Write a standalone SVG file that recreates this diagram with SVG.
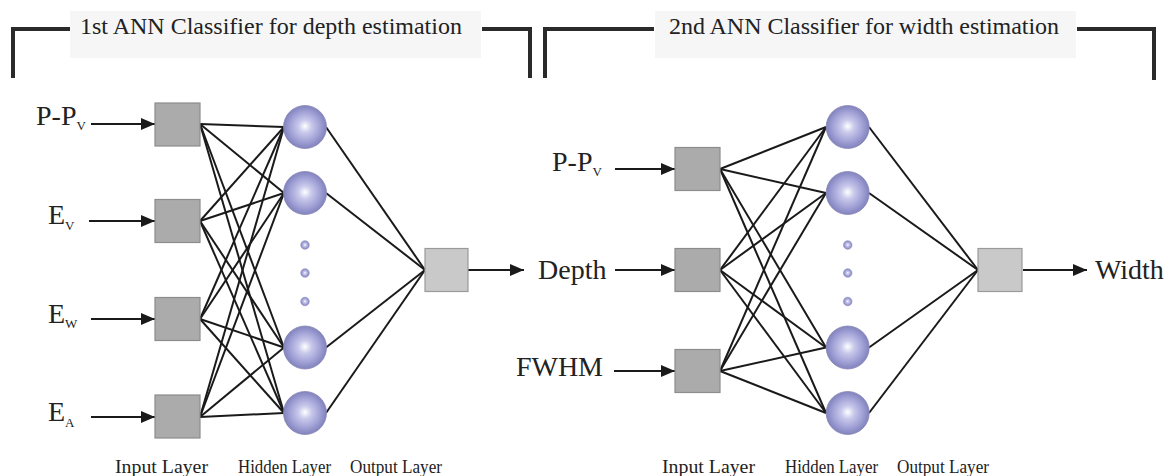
<svg xmlns="http://www.w3.org/2000/svg" width="1170" height="476" viewBox="0 0 1170 476">
<style>
  .bracket{fill:none;stroke:#2a2a2a;stroke-width:4;stroke-linejoin:miter;stroke-linecap:butt}
  .hdrbg{fill:#f6f6f6}
  .hdr{font-family:"Liberation Serif","Times New Roman",serif;font-size:24px;fill:#222}
  .lbl{font-family:"Liberation Serif","Times New Roman",serif;font-size:28px;fill:#222}
  .sub{font-family:"Liberation Serif","Times New Roman",serif;font-size:13px;fill:#222}
  .layer{font-family:"Liberation Serif","Times New Roman",serif;font-size:19px;fill:#222}
  .inbox{fill:#ababab;stroke:#8c8c8c;stroke-width:1.2}
  .outbox{fill:#c9c9c9;stroke:#9a9a9a;stroke-width:1.2}
  .node{fill:url(#sphere);stroke:#8585b5;stroke-width:0.8}
  .dot{fill:url(#sphere);stroke:#9090c0;stroke-width:0.6}
  .conn line{stroke:#1a1a1a;stroke-width:2}
  .arr{stroke:#1a1a1a;stroke-width:2.5;marker-end:url(#ah)}
</style>
<defs>
  <radialGradient id="sphere" cx="0.5" cy="0.5" r="0.5" fx="0.5" fy="0.48">
    <stop offset="0" stop-color="#ffffff"/>
    <stop offset="0.3" stop-color="#c9c9ec"/>
    <stop offset="0.75" stop-color="#9c9cd3"/>
    <stop offset="1" stop-color="#8282bd"/>
  </radialGradient>
  <marker id="ah" markerUnits="userSpaceOnUse" markerWidth="16" markerHeight="14" refX="14" refY="6" orient="auto">
    <path d="M0,0 L14,6 L0,12 Z" fill="#1a1a1a"/>
  </marker>
</defs>

<g id="header1">
  <polyline class="bracket" points="13,78 13,29 70,29"/>
  <polyline class="bracket" points="482,29 530,29 530,78"/>
  <rect class="hdrbg" x="70" y="11" width="411" height="47"/>
  <text class="hdr" x="80" y="34">1st ANN Classifier for depth estimation</text>
</g>
<g id="header2">
  <polyline class="bracket" points="545,78 545,29 654,29"/>
  <polyline class="bracket" points="1077,29 1154,29 1154,80"/>
  <rect class="hdrbg" x="655" y="11" width="421" height="47"/>
  <text class="hdr" x="669" y="34" textLength="390">2nd ANN Classifier for width estimation</text>
</g>

<g id="connectors" class="conn">
  <!-- net 1 input -> hidden -->
  <line x1="200" y1="124" x2="284" y2="127"/><line x1="200" y1="124" x2="284" y2="193"/><line x1="200" y1="124" x2="284" y2="347.5"/><line x1="200" y1="124" x2="284" y2="413"/>
  <line x1="200" y1="221" x2="284" y2="127"/><line x1="200" y1="221" x2="284" y2="193"/><line x1="200" y1="221" x2="284" y2="347.5"/><line x1="200" y1="221" x2="284" y2="413"/>
  <line x1="200" y1="319" x2="284" y2="127"/><line x1="200" y1="319" x2="284" y2="193"/><line x1="200" y1="319" x2="284" y2="347.5"/><line x1="200" y1="319" x2="284" y2="413"/>
  <line x1="200" y1="417" x2="284" y2="127"/><line x1="200" y1="417" x2="284" y2="193"/><line x1="200" y1="417" x2="284" y2="347.5"/><line x1="200" y1="417" x2="284" y2="413"/>
  <!-- net 1 hidden -> output -->
  <line x1="326" y1="127" x2="425" y2="270"/><line x1="326" y1="193" x2="425" y2="270"/><line x1="326" y1="347.5" x2="425" y2="270"/><line x1="326" y1="413" x2="425" y2="270"/>
  <!-- net 2 input -> hidden -->
  <line x1="720" y1="169" x2="826" y2="127"/><line x1="720" y1="169" x2="826" y2="193"/><line x1="720" y1="169" x2="826" y2="347.5"/><line x1="720" y1="169" x2="826" y2="413"/>
  <line x1="720" y1="270" x2="826" y2="127"/><line x1="720" y1="270" x2="826" y2="193"/><line x1="720" y1="270" x2="826" y2="347.5"/><line x1="720" y1="270" x2="826" y2="413"/>
  <line x1="720" y1="371" x2="826" y2="127"/><line x1="720" y1="371" x2="826" y2="193"/><line x1="720" y1="371" x2="826" y2="347.5"/><line x1="720" y1="371" x2="826" y2="413"/>
  <!-- net 2 hidden -> output -->
  <line x1="869" y1="127" x2="978" y2="270"/><line x1="869" y1="193" x2="978" y2="270"/><line x1="869" y1="347.5" x2="978" y2="270"/><line x1="869" y1="413" x2="978" y2="270"/>
  <!-- input / output arrows -->
  <line class="arr" x1="91" y1="124" x2="155" y2="124"/>
  <line class="arr" x1="89" y1="221" x2="155" y2="221"/>
  <line class="arr" x1="91" y1="319" x2="155" y2="319"/>
  <line class="arr" x1="91" y1="417" x2="155" y2="417"/>
  <line class="arr" x1="468" y1="270" x2="524" y2="270"/>
  <line class="arr" x1="615" y1="169" x2="675" y2="169"/>
  <line class="arr" x1="615" y1="270" x2="675" y2="270"/>
  <line class="arr" x1="614" y1="371" x2="675" y2="371"/>
  <line class="arr" x1="1023" y1="270" x2="1087" y2="270"/>
</g>

<g id="net1-labels">
  <text class="lbl" x="36" y="124.5">P-P<tspan class="sub" dy="5">V</tspan></text>
  <text class="lbl" x="48" y="223.5">E<tspan class="sub" dy="6">V</tspan></text>
  <text class="lbl" x="48" y="322.5">E<tspan class="sub" dy="5.5">W</tspan></text>
  <text class="lbl" x="48" y="421">E<tspan class="sub" dy="6">A</tspan></text>
  <text class="lbl" x="538" y="278.5">Depth</text>
</g>
<g id="net1-input">
  <rect class="inbox" x="155" y="103" width="45" height="43"/>
  <rect class="inbox" x="155" y="199.5" width="45" height="43"/>
  <rect class="inbox" x="155" y="297.5" width="45" height="43"/>
  <rect class="inbox" x="155" y="395" width="45" height="43"/>
</g>
<g id="net1-hidden">
  <circle class="node" cx="305" cy="127" r="21.5"/>
  <circle class="node" cx="305" cy="193" r="21.5"/>
  <circle class="node" cx="305" cy="347.5" r="21.5"/>
  <circle class="node" cx="305" cy="413" r="21.5"/>
  <circle class="dot" cx="305" cy="245" r="4.3"/>
  <circle class="dot" cx="305" cy="273" r="4.3"/>
  <circle class="dot" cx="305" cy="301.5" r="4.3"/>
</g>
<g id="net1-output">
  <rect class="outbox" x="425" y="248.5" width="43" height="43"/>
</g>

<g id="net2-labels">
  <text class="lbl" x="552" y="170.5">P-P<tspan class="sub" dy="5">V</tspan></text>
  <text class="lbl" x="603" y="375.5" text-anchor="end">FWHM</text>
  <text class="lbl" x="1095" y="279">Width</text>
</g>
<g id="net2-input">
  <rect class="inbox" x="675" y="147.5" width="45" height="43"/>
  <rect class="inbox" x="675" y="248.5" width="45" height="43"/>
  <rect class="inbox" x="675" y="349.5" width="45" height="43"/>
</g>
<g id="net2-hidden">
  <circle class="node" cx="847.7" cy="127" r="21.5"/>
  <circle class="node" cx="847.7" cy="193" r="21.5"/>
  <circle class="node" cx="847.7" cy="347.5" r="21.5"/>
  <circle class="node" cx="847.7" cy="413" r="21.5"/>
  <circle class="dot" cx="847.7" cy="245" r="4.3"/>
  <circle class="dot" cx="847.7" cy="273" r="4.3"/>
  <circle class="dot" cx="847.7" cy="301.5" r="4.3"/>
</g>
<g id="net2-output">
  <rect class="outbox" x="978" y="248.5" width="44" height="43"/>
</g>

<g id="layer-labels">
  <text class="layer" x="115" y="473" textLength="93" lengthAdjust="spacingAndGlyphs">Input Layer</text>
  <text class="layer" x="238" y="473" textLength="93" lengthAdjust="spacingAndGlyphs">Hidden Layer</text>
  <text class="layer" x="350" y="473" textLength="92" lengthAdjust="spacingAndGlyphs">Output Layer</text>
  <text class="layer" x="662" y="473" textLength="93" lengthAdjust="spacingAndGlyphs">Input Layer</text>
  <text class="layer" x="785" y="473" textLength="93" lengthAdjust="spacingAndGlyphs">Hidden Layer</text>
  <text class="layer" x="897" y="473" textLength="92" lengthAdjust="spacingAndGlyphs">Output Layer</text>
</g>
</svg>
